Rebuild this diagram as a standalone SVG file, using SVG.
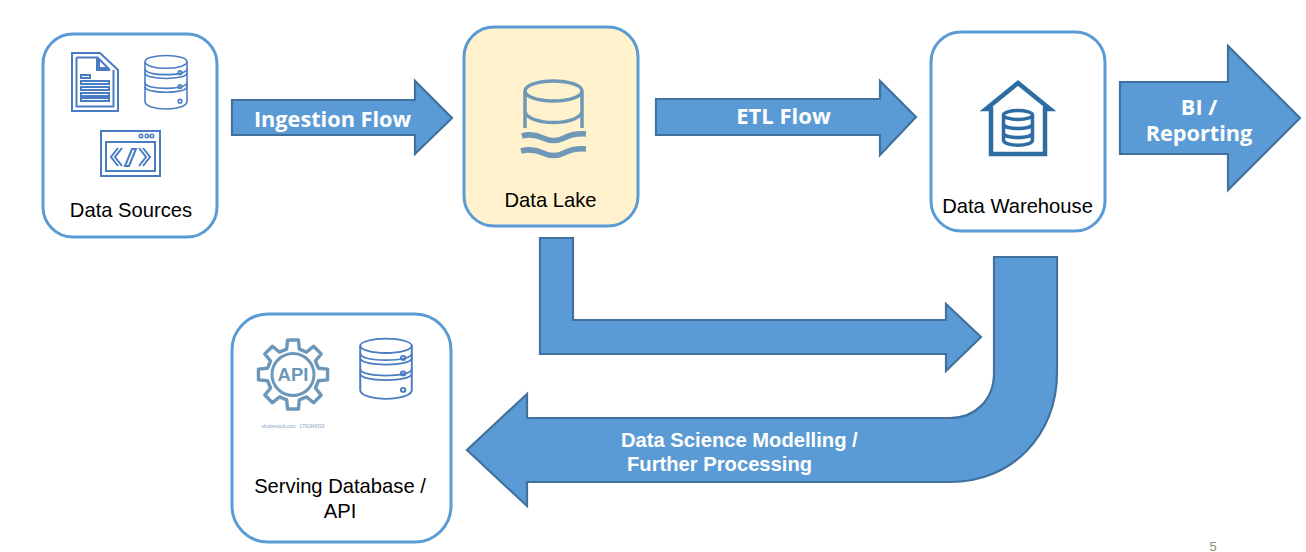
<svg xmlns="http://www.w3.org/2000/svg" width="1306" height="552" viewBox="0 0 1306 552">
<style>
.box{fill:#fff;stroke:#5b9bd5;stroke-width:3}
.arrow{fill:#5b9bd5;stroke:#41719c;stroke-width:2.2;stroke-linejoin:miter}
.label{font-family:"Liberation Sans",Arial,sans-serif;font-size:20.2px;fill:#000;text-anchor:middle}
.flow{font-family:"Open Sans","Liberation Sans",sans-serif;font-weight:700;fill:#fff;text-anchor:middle}
.flow2{font-family:"Liberation Sans",Arial,sans-serif;font-weight:700;font-size:20.2px;fill:#fff}
.ico{fill:none;stroke:#4a7cc4;stroke-width:2;stroke-linejoin:miter}
.dot{fill:none;stroke:#4a7cc4;stroke-width:1.6}
</style>
<defs>
<symbol id="db" viewBox="0 0 44 58" preserveAspectRatio="none" overflow="visible">
<g fill="none" stroke="#4a7cc4" stroke-width="1.6">
<ellipse cx="22" cy="8" rx="21" ry="6.5"/>
<path d="M1 8V19C1 23 11 25 22 25S43 23 43 19V8"/>
<path d="M1 15C1 19 11 21 22 21S43 19 43 15"/>
<path d="M1 19V33C1 37 11 39 22 39S43 37 43 33V19"/>
<path d="M1 29C1 33 11 35 22 35S43 33 43 29"/>
<path d="M1 33V48C1 53 11 56 22 56S43 53 43 48V33"/>
<circle cx="36" cy="19" r="1.8"/><circle cx="36" cy="33" r="1.8"/><circle cx="36" cy="48" r="1.8"/>
</g>
</symbol>
</defs>
<rect width="1306" height="552" fill="#fff"/>

<g id="connectors">
<path id="ingestion-arrow" class="arrow" d="M232 100H415V81L452 118L415 154V135H232Z"/>
<path id="etl-arrow" class="arrow" d="M656 99H880V81L916 117L880 155V135H656Z"/>
<path id="bi-arrow" class="arrow" d="M1120 82H1228V46L1300 118L1228 190V154H1120Z"/>
<path id="lake-science-arrow" class="arrow" d="M540 238H573V320H946V304L981 337L946 371V354H540Z"/>
<path id="warehouse-serving-arrow" class="arrow" d="M994 257H1057V373C1057 435 1012 482 950 482H527V506L467 450L527 394V418H950C975 418 994 400 994 373Z"/>
<text class="flow" x="332.500" y="127" font-size="21.700">Ingestion Flow</text>
<text class="flow" x="783.500" y="124" font-size="22">ETL Flow</text>
<text class="flow" x="1199" y="115" font-size="21.700">BI /</text>
<text class="flow" x="1199" y="141" font-size="21.700">Reporting</text>
<text class="flow2" x="621" y="447">Data Science Modelling /</text>
<text class="flow2" x="627" y="471">Further Processing</text>
</g>

<g id="data-sources">
<rect class="box" x="43" y="34" width="174" height="203" rx="30"/>
<path class="ico" d="M72 53H100L118 70V111H72Z"/>
<path class="ico" d="M76.500 57.500H97V70H110" stroke-width="1.600"/>
<path class="ico" d="M99 59L108 68H99Z"/>
<path class="ico" d="M76.500 57.500V106.500H113.500V70" stroke-width="1.600"/>
<rect class="ico" x="81" y="75" width="9" height="3" stroke-width="1.400"/>
<rect class="ico" x="81" y="81" width="28" height="3" stroke-width="1.400"/>
<rect class="ico" x="81" y="87" width="28" height="3" stroke-width="1.400"/>
<rect class="ico" x="81" y="93" width="28" height="3" stroke-width="1.400"/>
<rect class="ico" x="81" y="98" width="28" height="3" stroke-width="1.400"/>
<use href="#db" x="144" y="54" width="44" height="57"/>
<rect class="ico" x="101" y="131" width="59" height="45"/>
<rect class="ico" x="106" y="142" width="49" height="29"/>
<circle class="dot" cx="141" cy="136" r="1.700"/><circle class="dot" cx="147" cy="136" r="1.700"/><circle class="dot" cx="152" cy="136" r="1.700"/>
<path class="ico" d="M122 148L115 157L122 166M118 148L111 157L118 166" stroke-width="1.400"/>
<path class="ico" d="M139 148L146 157L139 166M143 148L150 157L143 166" stroke-width="1.400"/>
<path class="ico" d="M132 149H136L129 166H125Z" stroke-width="1.400"/>
<text class="label" x="131" y="217">Data Sources</text>
</g>

<g id="data-lake">
<rect class="box" x="464" y="27" width="174" height="199" rx="30" style="fill:#fff2cc"/>
<g fill="none" stroke="#6f97b8">
<ellipse cx="553.500" cy="91" rx="28.500" ry="10" stroke-width="3.500"/>
<path d="M525 91V128M582 91V128M525 112C530 126 577 126 582 112" stroke-width="3.500"/>
<path d="M522 136Q532 133 543 138T564 138T586 134" stroke-width="5.500"/>
<path d="M521 151Q532 148 543 153T564 153T586 149" stroke-width="5.500"/>
</g>
<text class="label" x="550.500" y="207">Data Lake</text>
</g>

<g id="data-warehouse">
<rect class="box" x="931" y="32" width="174" height="199" rx="30"/>
<path d="M991 109H986L1018 83L1050 109H1045V154H991Z" fill="none" stroke="#2e6da4" stroke-width="4.500"/>
<g fill="none" stroke="#2e6da4" stroke-width="3.500">
<ellipse cx="1018" cy="115" rx="14.500" ry="4.500"/>
<path d="M1003.500 115V140C1003.500 147 1032.500 147 1032.500 140V115"/>
<path d="M1003.500 124C1003.500 130 1032.500 130 1032.500 124M1003.500 133C1003.500 139 1032.500 139 1032.500 133"/>
</g>
<text class="label" x="1017.500" y="213">Data Warehouse</text>
</g>

<g id="serving-database">
<rect class="box" x="232" y="314" width="219" height="228" rx="36"/>
<path transform="translate(293 374.500) scale(.97)" d="M-6.500-26.200L-5.600-35.600L5.600-35.600L6.500-26.200L13.900-23.100L21.200-29.100L29.100-21.200L23.100-13.900L26.200-6.500L35.600-5.600L35.600 5.600L26.200 6.500L23.100 13.900L29.100 21.200L21.200 29.100L13.900 23.100L6.500 26.200L5.600 35.600L-5.600 35.600L-6.500 26.200L-13.900 23.100L-21.200 29.100L-29.100 21.200L-23.100 13.900L-26.200 6.500L-35.600 5.600L-35.600-5.600L-26.200-6.500L-23.100-13.900L-29.100-21.200L-21.200-29.100L-13.900-23.100Z" fill="none" stroke="#6d97b8" stroke-width="3.500" stroke-linejoin="round"/>
<circle cx="293" cy="374.500" r="21" fill="none" stroke="#6d97b8" stroke-width="3"/>
<text x="293" y="381" font-family="Liberation Sans,sans-serif" font-weight="700" font-size="18.500" fill="#6d97b8" text-anchor="middle">API</text>
<use href="#db" x="359" y="337" width="54" height="64"/>
<text x="293" y="428" font-family="Liberation Sans,sans-serif" font-size="4.500" fill="#7fa6c4" text-anchor="middle">shutterstock.com · 1791940316</text>
<text class="label" x="340" y="493">Serving Database /</text>
<text class="label" x="340" y="518">API</text>
</g>

<text id="page-number" x="1213" y="551" font-family="Liberation Sans,sans-serif" font-size="13" fill="#8b8b7a" text-anchor="middle">5</text>
</svg>
